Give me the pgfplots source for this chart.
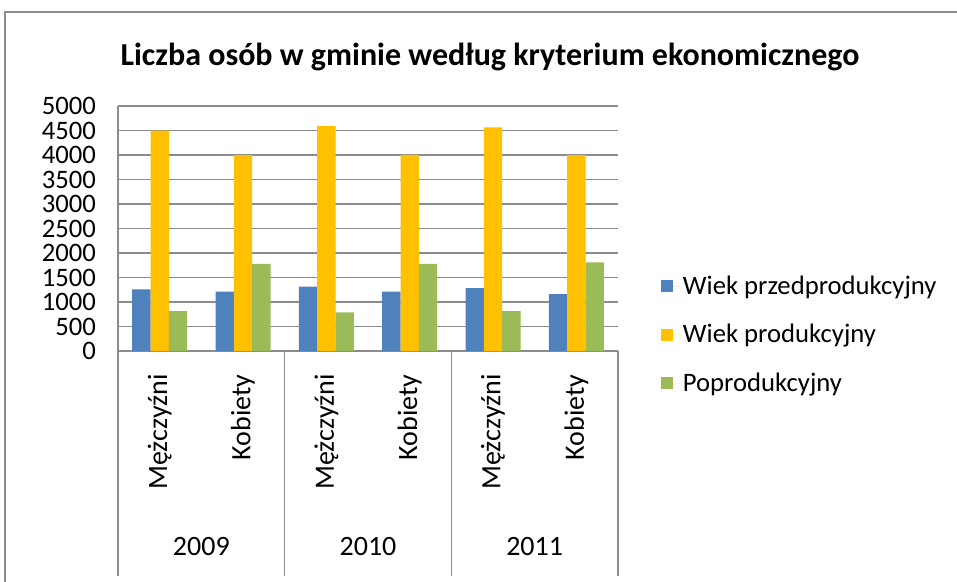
\documentclass[border=0pt]{standalone}
\usepackage{fontspec}
\setmainfont{Carlito}
\usepackage{pgfplots}
\pgfplotsset{compat=1.18}
\definecolor{cblue}{HTML}{4F81BD}
\definecolor{corange}{HTML}{FFC000}
\definecolor{cgreen}{HTML}{9BBB59}
\definecolor{cgrid}{HTML}{8C8C8C}
\begin{document}
\begin{tikzpicture}[x=0.75pt,y=0.75pt]
\useasboundingbox (0,0) rectangle (957,582);
\draw[cgrid, line width=1.2pt] (5,0) -- (5,570) -- (957,570);
\node[font=\fontsize{24}{28}\selectfont\bfseries] at (490,525) {Liczba osób w gminie według kryterium ekonomicznego};
\begin{axis}[
  at={(88.5pt,173.25pt)}, anchor=south west,
  scale only axis, width=375pt, height=183.75pt,
  ybar=0pt, bar width=0.22,
  xmin=-0.5, xmax=5.5, ymin=0, ymax=5000,
  xtick={0,...,5},
  xticklabels={Mężczyźni,Kobiety,Mężczyźni,Kobiety,Mężczyźni,Kobiety},
  xticklabel style={rotate=90, anchor=east, font=\fontsize{21}{24}\selectfont},
  xticklabel shift=14pt,
  ytick={0,500,...,5000},
  yticklabel style={font=\fontsize{20}{22}\selectfont, inner ysep=0pt,
    /pgf/number format/assume math mode=true, /pgf/number format/1000 sep={}},
  yticklabel shift=13pt,
  major tick length=0pt,
  axis x line*=bottom, axis y line*=left,
  axis line style={cgrid, line width=1pt, -},
  ymajorgrids, grid style={cgrid, line width=1pt},
  clip=false,
  legend style={at={(1,0.067)}, anchor=west, xshift=29pt, draw=none, fill=none,
    font=\fontsize{20}{24}\selectfont, row sep=17pt},
  legend cell align=left,
  legend image code/.code={\fill[#1] (0pt,-4.5pt) rectangle (9pt,4.5pt); \path (0pt,0pt) -- (14.5pt,0pt);},
]
\addplot[fill=cblue, draw=none] coordinates {(0,1260) (1,1210) (2,1315) (3,1210) (4,1285) (5,1160)};
\addplot[fill=corange, draw=none] coordinates {(0,4500) (1,4000) (2,4590) (3,4005) (4,4565) (5,3995)};
\addplot[fill=cgreen, draw=none] coordinates {(0,815) (1,1780) (2,790) (3,1780) (4,815) (5,1810)};
\legend{Wiek przedprodukcyjny, Wiek produkcyjny, Poprodukcyjny}
\pgfplotsinvokeforeach{-0.5,1.5,3.5,5.5}{
  \draw[cgrid, line width=1pt] (axis cs:#1,0) -- ++(0pt,-168.75pt);
}
\node[font=\fontsize{21}{24}\selectfont] at (axis cs:0.5,0) [yshift=-147pt] {2009};
\node[font=\fontsize{21}{24}\selectfont] at (axis cs:2.5,0) [yshift=-147pt] {2010};
\node[font=\fontsize{21}{24}\selectfont] at (axis cs:4.5,0) [yshift=-147pt] {2011};
\end{axis}
\end{tikzpicture}
\end{document}
